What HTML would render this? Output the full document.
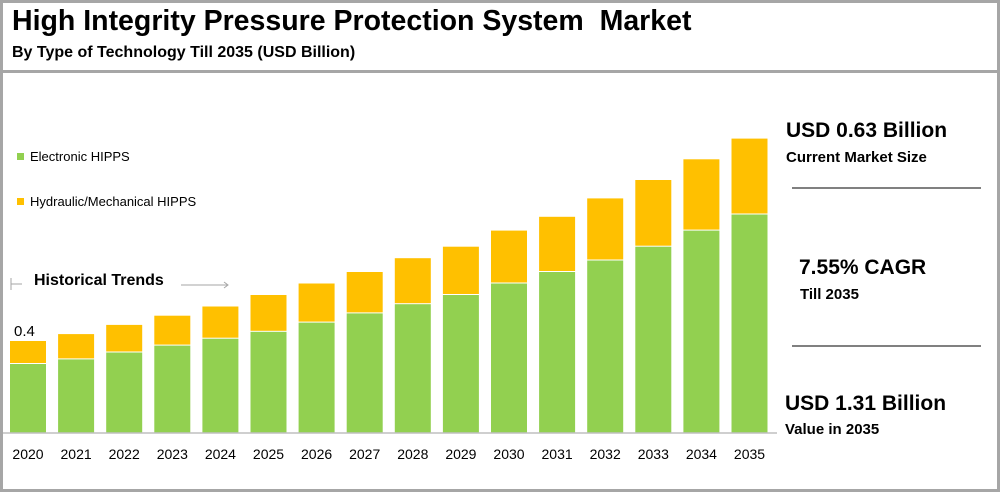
<!DOCTYPE html>
<html><head><meta charset="utf-8"><style>
body{margin:0;width:1000px;height:492px;overflow:hidden;background:#fff;font-family:"Liberation Sans",Arial,sans-serif;}
#frame{position:absolute;left:0;top:0;width:994px;height:486px;border:3px solid #a6a6a6;}
.t{position:absolute;white-space:nowrap;color:#000;}
</style></head><body>
<div id="frame"></div>
<div class="t" style="left:12px;top:5px;font-size:28.5px;font-weight:bold;">High Integrity Pressure Protection System&nbsp; Market</div>
<div class="t" style="left:12px;top:44px;font-size:16px;font-weight:bold;">By Type of Technology Till 2035 (USD Billion)</div>
<div style="position:absolute;left:3px;top:70px;width:994px;height:3px;background:#a6a6a6;"></div>
<svg id="chart" width="1000" height="492" style="position:absolute;left:0;top:0"></svg>
<div class="t" style="left:17px;top:149px;font-size:13px;"><span style="display:inline-block;width:7px;height:7px;background:#92d050;margin-right:6px;vertical-align:1px"></span>Electronic HIPPS</div>
<div class="t" style="left:17px;top:194px;font-size:13px;"><span style="display:inline-block;width:7px;height:7px;background:#ffc000;margin-right:6px;vertical-align:1px"></span>Hydraulic/Mechanical HIPPS</div>
<div class="t" style="left:34px;top:272px;font-size:16px;font-weight:bold;">Historical Trends</div>
<div class="t" style="left:786px;top:119px;font-size:21px;font-weight:bold;">USD 0.63 Billion</div>
<div class="t" style="left:786px;top:149px;font-size:15px;font-weight:bold;">Current Market Size</div>
<div style="position:absolute;left:792px;top:187px;width:189px;height:2px;background:#808080;"></div>
<div class="t" style="left:799px;top:256px;font-size:21px;font-weight:bold;">7.55% CAGR</div>
<div class="t" style="left:800px;top:286px;font-size:15px;font-weight:bold;">Till 2035</div>
<div style="position:absolute;left:792px;top:345px;width:189px;height:2px;background:#808080;"></div>
<div class="t" style="left:785px;top:392px;font-size:21px;font-weight:bold;">USD 1.31 Billion</div>
<div class="t" style="left:785px;top:421px;font-size:15px;font-weight:bold;">Value in 2035</div>
<script>
const years=["2020","2021","2022","2023","2024","2025","2026","2027","2028","2029","2030","2031","2032","2033","2034","2035"];
const electronic=[0.30,0.32,0.35,0.38,0.41,0.44,0.48,0.52,0.56,0.60,0.65,0.70,0.75,0.81,0.88,0.95];
const hydraulic=[0.10,0.11,0.12,0.13,0.14,0.16,0.17,0.18,0.20,0.21,0.23,0.24,0.27,0.29,0.31,0.33];
const firstLabel="0.4";
const svg=document.getElementById('chart');
const NS="http://www.w3.org/2000/svg";
const base=433,k=230,x0=10,step=48.1,bw=36;
const y=v=>base-v*k;
const xs=i=>x0+i*step;
function mk(t,a){const e=document.createElementNS(NS,t);for(const n in a)e.setAttribute(n,a[n]);svg.appendChild(e);return e;}
years.forEach((yr,i)=>{
  const g=mk('rect',{x:xs(i),y:y(electronic[i]),width:bw,height:electronic[i]*k,fill:'#92d050'});
  
  
  const h=mk('rect',{x:xs(i),y:y(electronic[i]+hydraulic[i]),width:bw,height:hydraulic[i]*k-1,fill:'#ffc000'});
  
  
  const t=mk('text',{x:xs(i)+bw/2,y:459,'text-anchor':'middle','font-size':'14','font-family':'Liberation Sans, sans-serif'});
  t.textContent=yr;
  
  
});
const axis=mk('line',{x1:3,y1:base,x2:777,y2:base,stroke:'#bfbfbf','stroke-width':1.5});


const lbl=mk('text',{x:xs(0)+4,y:y(electronic[0]+hydraulic[0])-5,'font-size':'15','font-family':'Liberation Sans, sans-serif'});
lbl.textContent=firstLabel;


const a1=mk('path',{d:'M11 278 V290 M11 284 H22',stroke:'#a6a6a6',fill:'none','stroke-width':1});


const a2=mk('path',{d:'M181 285 H228 M224 282 L228 285 L224 288',stroke:'#a6a6a6',fill:'none','stroke-width':1});


</script>
</body></html>
